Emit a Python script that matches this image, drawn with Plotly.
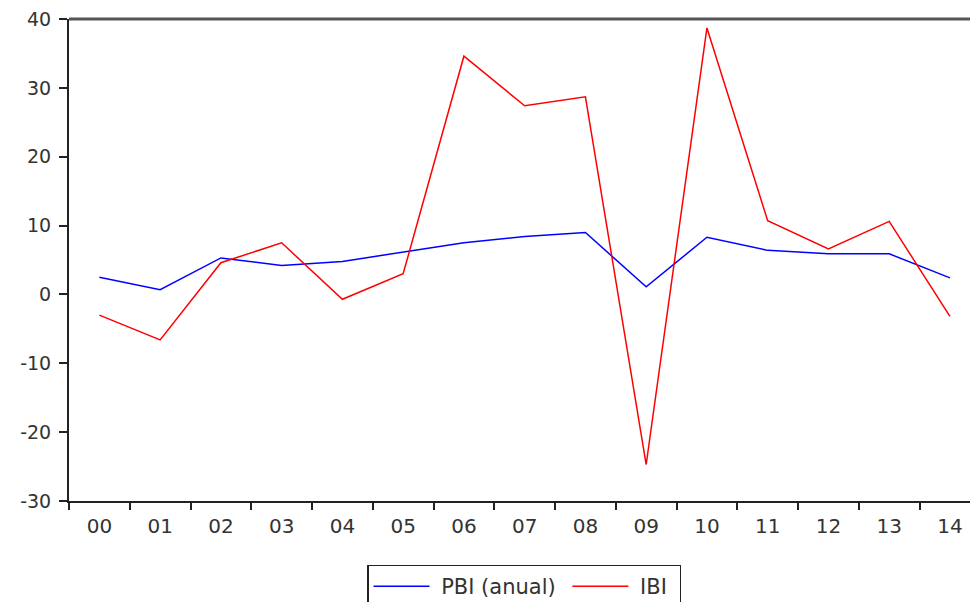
import plotly.graph_objects as go

years = ["00", "01", "02", "03", "04", "05", "06", "07", "08", "09", "10", "11", "12", "13", "14"]
pbi_anual = [2.5, 0.7, 5.3, 4.2, 4.8, 6.2, 7.5, 8.4, 9.0, 1.1, 8.3, 6.4, 5.9, 5.9, 2.4]
ibi = [-3.0, -6.6, 4.6, 7.5, -0.7, 3.0, 34.6, 27.4, 28.7, -24.7, 38.7, 10.7, 6.6, 10.6, -3.2]
y_ticks = [-30, -20, -10, 0, 10, 20, 30, 40]
y_tick_labels = ["-30", "-20", "-10", "0", "10", "20", "30", "40"]

font_main = "DejaVu Sans, Verdana, sans-serif"

fig = go.Figure()
fig.add_trace(go.Scatter(x=years, y=pbi_anual, mode="lines", name="\u00a0PBI (anual)\u00a0",
                         line=dict(color="#0000ff", width=1.5)))
fig.add_trace(go.Scatter(x=years, y=ibi, mode="lines", name="\u00a0IBI\u00a0",
                         line=dict(color="#ff0000", width=1.5)))

fig.update_layout(
    width=970, height=602,
    margin=dict(l=69, r=0, t=19, b=101, autoexpand=False),
    paper_bgcolor="white", plot_bgcolor="white",
    font=dict(family=font_main, size=18, color="#333333"),
    showlegend=True,
    legend=dict(orientation="h", x=0.505, xanchor="center", y=-0.132, yanchor="top",
                bordercolor="#222222", borderwidth=1.5, bgcolor="white",
                font=dict(family=font_main, size=21, color="#333333"),
                itemwidth=56),
    xaxis=dict(type="category", range=[-0.5, 14.33], tickson="boundaries",
               ticks="outside", ticklen=7, tickwidth=1.5, tickcolor="#222222",
               showline=True, linecolor="#222222", linewidth=2,
               showgrid=False, zeroline=False, fixedrange=True,
               ticklabelstandoff=6,
               tickfont=dict(family=font_main, size=20)),
    yaxis=dict(range=[-30, 40], tickvals=y_ticks, ticktext=y_tick_labels,
               ticks="outside", ticklen=8, tickwidth=1.5, tickcolor="#222222",
               showline=True, linecolor="#222222", linewidth=2,
               showgrid=False, zeroline=False, fixedrange=True,
               ticklabelstandoff=4,
               tickfont=dict(family=font_main, size=19)),
)

fig.add_shape(type="line", xref="paper", yref="paper", x0=0, x1=1, y0=1, y1=1,
              line=dict(color="#555555", width=3))

fig.write_html("out.html", config={"displayModeBar": False},
               post_script="document.body.style.margin='0';document.body.style.overflow='hidden';")
